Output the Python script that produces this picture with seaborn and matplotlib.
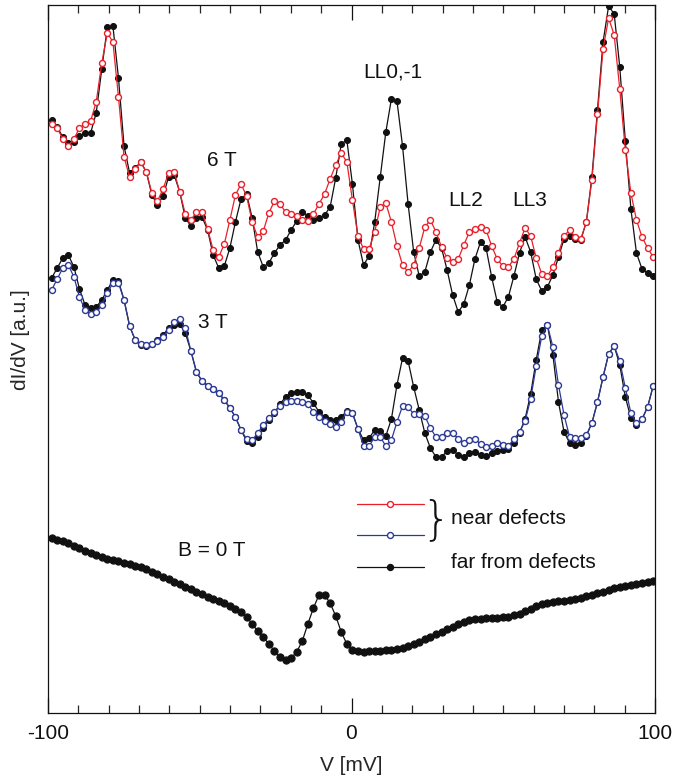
import numpy as np
import pandas as pd
import matplotlib
matplotlib.use("Agg")
import matplotlib.pyplot as plt
import seaborn as sns
from matplotlib.lines import Line2D
from matplotlib.ticker import MultipleLocator

# ---- data (dI/dV in arbitrary units) ----
V_START, V_STOP, N_PTS = -98.8, 99.4, 109
bias_mV = np.linspace(V_START, V_STOP, N_PTS)   # measured bias grid

near_6T = [589, 585, 574, 567, 574, 585, 589, 592, 611, 650, 680, 671, 616, 556, 536, 544, 551, 541, 520, 512,
           524, 540, 541, 521, 499, 493, 501, 501, 484, 463, 456, 469, 493, 518, 529, 517, 491, 476, 482, 500,
           512, 509, 501, 499, 497, 493, 492, 499, 509, 519, 534, 548, 560, 551, 513, 477, 464, 464, 481, 506,
           510, 491, 467, 448, 441, 448, 465, 486, 493, 481, 466, 455, 451, 454, 468, 481, 484, 486, 483, 467,
           454, 447, 446, 454, 470, 485, 477, 455, 439, 437, 446, 460, 477, 483, 476, 474, 491, 533, 599, 664,
           695, 678, 624, 563, 520, 493, 476, 465, 456]
far_6T = [593, 586, 576, 570, 571, 577, 580, 580, 600, 644, 686, 687, 635, 567, 540, 545, 551, 541, 518, 508,
          517, 536, 538, 521, 495, 487, 495, 496, 483, 458, 445, 447, 465, 491, 514, 519, 495, 461, 446, 450,
          460, 468, 473, 483, 492, 501, 497, 493, 495, 498, 506, 535, 569, 573, 529, 473, 448, 457, 491, 536,
          581, 614, 612, 567, 509, 461, 437, 441, 461, 473, 465, 443, 418, 401, 409, 428, 454, 471, 465, 436,
          411, 406, 416, 437, 460, 476, 461, 434, 422, 426, 438, 456, 474, 477, 474, 473, 491, 536, 603, 671,
          707, 699, 646, 572, 504, 460, 444, 440, 437]
near_3T = [423, 434, 445, 448, 436, 416, 403, 399, 401, 408, 420, 430, 430, 413, 387, 373, 369, 368, 369, 372,
           376, 383, 391, 394, 385, 362, 341, 332, 327, 324, 320, 313, 305, 296, 283, 274, 273, 280, 288, 295,
           301, 307, 311, 312, 312, 311, 309, 301, 296, 292, 289, 286, 291, 301, 300, 284, 267, 267, 276, 276,
           267, 273, 291, 307, 306, 299, 299, 297, 285, 276, 276, 280, 280, 274, 270, 273, 274, 269, 266, 267,
           270, 268, 267, 274, 281, 292, 314, 347, 377, 388, 366, 328, 298, 276, 275, 275, 278, 290, 311, 336,
           359, 367, 352, 325, 300, 290, 294, 306, 327]
far_3T = [435, 445, 455, 458, 446, 424, 408, 405, 406, 413, 423, 433, 432, 413, 387, 373, 368, 367, 369, 373,
          378, 385, 388, 389, 380, 362, 341, 332, 327, 324, 320, 313, 305, 296, 283, 272, 270, 276, 285, 293,
          300, 309, 316, 320, 321, 321, 318, 310, 301, 296, 293, 293, 296, 302, 300, 284, 273, 275, 283, 282,
          277, 294, 328, 355, 352, 326, 303, 280, 265, 256, 256, 262, 263, 258, 256, 260, 261, 258, 257, 260,
          262, 263, 264, 270, 280, 294, 319, 353, 383, 388, 358, 311, 281, 270, 268, 270, 277, 290, 311, 336,
          359, 367, 348, 316, 295, 288, 294, 306, 327]
far_0T = [175, 173, 172, 170, 167, 165, 162, 160, 158, 156, 154, 153, 152, 150, 149, 147, 146, 144, 141, 139,
          136, 134, 131, 129, 126, 124, 121, 119, 116, 114, 112, 110, 107, 104, 101, 96, 89, 82, 76, 69,
          62, 56, 53, 55, 61, 72, 89, 105, 118, 118, 110, 97, 81, 69, 63, 62, 61, 62, 62, 62,
          63, 63, 64, 65, 67, 69, 71, 74, 76, 79, 81, 84, 86, 89, 91, 93, 94, 94, 95, 95,
          95, 96, 96, 98, 99, 102, 104, 107, 109, 110, 111, 112, 112, 113, 114, 115, 117, 118, 120, 121,
          123, 125, 126, 127, 128, 129, 130, 131, 132]

xticks_major = [-100, 0, 100]
xtick_labels = ["-100", "0", "100"]
legend_labels = ["near defects", "far from defects"]

RED = "#ea1f29"
BLUE = "#2c3a96"
BLACK = "#111111"

df = pd.DataFrame({"V": bias_mV, "near_6T": near_6T, "far_6T": far_6T,
                   "near_3T": near_3T, "far_3T": far_3T, "far_0T": far_0T})

sns.set_style("ticks")
plt.rcParams["font.family"] = ["Liberation Sans", "DejaVu Sans"]

fig = plt.figure(figsize=(6.89, 7.81), dpi=100)
ax = fig.add_axes([48 / 689, 68 / 781, 607 / 689, 708 / 781])

lw = 0.9
ms = 4.3
open_kw = dict(marker="o", markersize=ms, markerfacecolor="white", markeredgewidth=1.0, linewidth=lw)
fill_kw = dict(marker="o", markersize=ms, markerfacecolor=BLACK, markeredgecolor=BLACK, linewidth=lw)

sns.lineplot(data=df, x="V", y="far_6T", ax=ax, color=BLACK, **fill_kw)
sns.lineplot(data=df, x="V", y="near_6T", ax=ax, color=RED, markeredgecolor=RED, **open_kw)
sns.lineplot(data=df, x="V", y="far_3T", ax=ax, color=BLACK, **fill_kw)
sns.lineplot(data=df, x="V", y="near_3T", ax=ax, color=BLUE, markeredgecolor=BLUE, **open_kw)
sns.lineplot(data=df, x="V", y="far_0T", ax=ax, color=BLACK, marker="o", markersize=5.2,
             markerfacecolor=BLACK, markeredgecolor=BLACK, linewidth=lw)

ax.set_xlim(-100, 100)
ax.set_ylim(0, 708)
ax.set_xticks(xticks_major)
ax.set_xticklabels(xtick_labels)
ax.xaxis.set_minor_locator(MultipleLocator(10))
ax.set_yticks([])
ax.tick_params(axis="x", which="major", direction="in", length=11, width=0.9, top=True,
               labelsize=15, pad=8, colors="#111111")
ax.tick_params(axis="x", which="minor", direction="in", length=6, width=0.9, top=True)
for s in ax.spines.values():
    s.set_linewidth(0.9)
    s.set_color("#111111")

ax.set_xlabel("V [mV]", fontsize=15, labelpad=9)
ax.set_ylabel("dI/dV [a.u.]", fontsize=15)
ax.yaxis.set_label_coords(-0.030, 0.527)

txt = dict(fontsize=15, ha="center", va="center", color="#111111")
ax.text(-42.8, 553, "6 T", **txt)
ax.text(13.5, 641, "LL0,-1", **txt)
ax.text(37.6, 512, "LL2", **txt)
ax.text(58.7, 512, "LL3", **txt)
ax.text(-45.8, 390, "3 T", **txt)
ax.text(-46.1, 163, "B = 0 T", **txt)

handles = [Line2D([], [], color=RED, markeredgecolor=RED, **open_kw),
           Line2D([], [], color=BLUE, markeredgecolor=BLUE, **open_kw),
           Line2D([], [], color=BLACK, **fill_kw)]
ax.legend(handles, [" ", " ", " "], loc="upper left",
          bbox_to_anchor=((357 - 48) / 607, (713 - 496) / 708), frameon=False,
          fontsize=15, handlelength=3.2, handletextpad=1.35, labelspacing=0.6,
          borderpad=0, borderaxespad=0, markerscale=1.0)
ax.text((451 - 48) / 607, (713 - 519) / 708, legend_labels[0], transform=ax.transAxes,
        fontsize=15, ha="left", va="center", color="#111111")
ax.text((451 - 48) / 607, (713 - 562) / 708, legend_labels[1], transform=ax.transAxes,
        fontsize=15, ha="left", va="center", color="#111111")
ax.text((436 - 48) / 607, (713 - 520) / 708, "}", transform=ax.transAxes,
        fontsize=33, ha="center", va="center", color="#111111", fontweight="light",
        family=["DejaVu Sans"])

fig.savefig("out.png", dpi=100)
